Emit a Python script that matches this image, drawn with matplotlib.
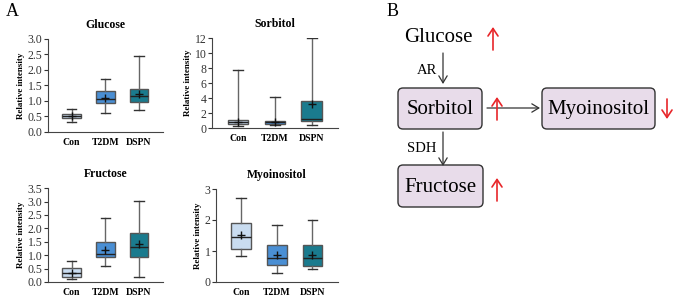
import matplotlib.pyplot as plt
from matplotlib.patches import FancyBboxPatch

plt.rcParams["font.family"] = ["Liberation Serif", "DejaVu Serif"]

groups = ["Con", "T2DM", "DSPN"]
colors = ["#c9dcf0", "#4a8fd4", "#1a7b8e"]

# per metabolite: whisker low, q1, median, q3, whisker high, mean (one per group)
glucose_low = [0.33, 0.60, 0.70]
glucose_q1 = [0.46, 0.93, 0.96]
glucose_med = [0.50, 1.07, 1.15]
glucose_q3 = [0.58, 1.32, 1.40]
glucose_high = [0.75, 1.72, 2.45]
glucose_mean = [0.52, 1.10, 1.22]

sorbitol_low = [0.30, 0.45, 0.45]
sorbitol_q1 = [0.50, 0.60, 0.95]
sorbitol_med = [0.75, 0.80, 1.20]
sorbitol_q3 = [1.10, 1.00, 3.60]
sorbitol_high = [7.70, 4.10, 12.0]
sorbitol_mean = [0.80, 0.85, 3.20]

fructose_low = [0.10, 0.60, 0.20]
fructose_q1 = [0.20, 0.93, 0.95]
fructose_med = [0.32, 1.06, 1.30]
fructose_q3 = [0.52, 1.48, 1.82]
fructose_high = [0.80, 2.38, 3.03]
fructose_mean = [0.35, 1.20, 1.40]

myo_low = [0.83, 0.30, 0.42]
myo_q1 = [1.08, 0.55, 0.52]
myo_med = [1.45, 0.78, 0.77]
myo_q3 = [1.90, 1.18, 1.20]
myo_high = [2.72, 1.85, 2.00]
myo_mean = [1.52, 0.87, 0.87]

fig = plt.figure(figsize=(6.75, 3.0), dpi=100)


def box_panel(rect, title, low, q1, med, q3, high, mean, ymax, yticks, fmt):
    ax = fig.add_axes(rect)
    stats = []
    for i in range(len(groups)):
        stats.append(dict(whislo=low[i], q1=q1[i], med=med[i], q3=q3[i],
                          whishi=high[i], mean=mean[i], label=groups[i]))
    bp = ax.bxp(stats, positions=[1, 2, 3], widths=0.55, patch_artist=True,
                showmeans=True, showfliers=False,
                boxprops=dict(edgecolor="#555555", linewidth=1.0),
                whiskerprops=dict(color="#666666", linewidth=1.0),
                capprops=dict(color="#333333", linewidth=1.0),
                medianprops=dict(color="#222222", linewidth=1.0),
                meanprops=dict(marker="+", markeredgecolor="#111111",
                               markersize=6, markeredgewidth=1.0))
    for patch, c in zip(bp["boxes"], colors):
        patch.set_facecolor(c)
    ax.set_xlim(0.3, 3.7)
    ax.set_ylim(0, ymax)
    ax.set_yticks(yticks)
    ax.set_yticklabels([fmt.format(t) for t in yticks], fontsize=8.5)
    ax.set_xticklabels(groups, fontsize=7, fontweight="bold")
    ax.tick_params(axis="x", length=0, pad=4)
    ax.tick_params(axis="y", length=3, width=0.8, pad=1, colors="#333333")
    for s in ["top", "right"]:
        ax.spines[s].set_visible(False)
    ax.spines["left"].set_color("#444444")
    ax.spines["bottom"].set_color("#444444")
    ax.set_ylabel("Relative intensity", fontsize=6.5, fontweight="bold", labelpad=2)
    ax.set_title(title, fontsize=8.5, fontweight="bold", pad=8)
    return ax


box_panel([0.071, 0.56, 0.17, 0.31], "Glucose", glucose_low, glucose_q1, glucose_med,
          glucose_q3, glucose_high, glucose_mean, 3.0,
          [0, 0.5, 1.0, 1.5, 2.0, 2.5, 3.0], "{:.1f}")
box_panel([0.314, 0.573, 0.186, 0.30], "Sorbitol", sorbitol_low, sorbitol_q1, sorbitol_med,
          sorbitol_q3, sorbitol_high, sorbitol_mean, 12,
          [0, 2, 4, 6, 8, 10, 12], "{:.0f}")
box_panel([0.071, 0.06, 0.17, 0.313], "Fructose", fructose_low, fructose_q1, fructose_med,
          fructose_q3, fructose_high, fructose_mean, 3.5,
          [0, 0.5, 1.0, 1.5, 2.0, 2.5, 3.0, 3.5], "{:.1f}")
box_panel([0.32, 0.06, 0.18, 0.31], "Myoinositol", myo_low, myo_q1, myo_med,
          myo_q3, myo_high, myo_mean, 3,
          [0, 1, 2, 3], "{:.0f}")

fig.text(0.008, 0.96, "A", fontsize=13, va="center")
fig.text(0.572, 0.96, "B", fontsize=13, va="center")

# Panel B: pathway diagram in pixel coordinates
axb = fig.add_axes([0, 0, 1, 1])
axb.set_xlim(0, 675)
axb.set_ylim(300, 0)
axb.axis("off")

node_fill = "#e8dcea"
nodes = {"Sorbitol": (398, 88, 84, 41), "Myoinositol": (542, 88, 113, 41),
         "Fructose": (398, 165, 85, 42)}
for name, (x, y, w, h) in nodes.items():
    axb.add_patch(FancyBboxPatch((x + 5, y + 5), w - 10, h - 10,
                                 boxstyle="round,pad=5", facecolor=node_fill,
                                 edgecolor="#333333", linewidth=1.0))
    axb.text(x + w / 2, y + h / 2 + 1, name, fontsize=15, ha="center", va="center")

axb.text(438, 38, "Glucose", fontsize=15, ha="center", va="center")
axb.text(427, 70, "AR", fontsize=10.5, ha="center", va="center")
axb.text(422, 149, "SDH", fontsize=10.5, ha="center", va="center")

arrow_kw = dict(arrowstyle="->,head_length=0.5,head_width=0.3", color="#333333",
                lw=0.9, mutation_scale=10, shrinkA=0, shrinkB=0)
axb.annotate("", xy=(443, 84), xytext=(443, 53), arrowprops=arrow_kw)
axb.annotate("", xy=(443, 166), xytext=(443, 132), arrowprops=arrow_kw)
axb.annotate("", xy=(540, 108), xytext=(487, 108), arrowprops=arrow_kw)

red_kw = dict(arrowstyle="->,head_length=0.45,head_width=0.3", color="#e8262a",
              lw=1.2, mutation_scale=12, shrinkA=0, shrinkB=0)
axb.annotate("", xy=(493, 27), xytext=(493, 50), arrowprops=red_kw)
axb.annotate("", xy=(497, 97), xytext=(497, 120), arrowprops=red_kw)
axb.annotate("", xy=(497, 178), xytext=(497, 201), arrowprops=red_kw)
axb.annotate("", xy=(667, 119), xytext=(667, 99), arrowprops=red_kw)

fig.savefig("out.png", dpi=100)
